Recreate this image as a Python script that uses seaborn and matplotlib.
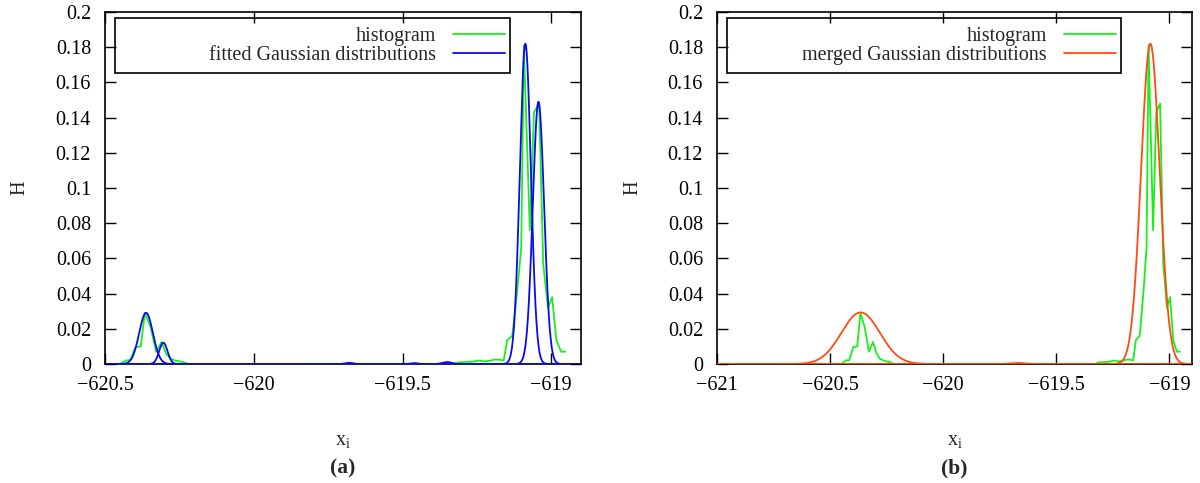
import numpy as np
import pandas as pd
import matplotlib
matplotlib.use("Agg")
import matplotlib.pyplot as plt
from matplotlib.patches import Rectangle
import seaborn as sns

# ---------------- data ----------------
hist_x = [-620.45, -620.43, -620.415, -620.398, -620.38, -620.366, -620.347,
          -620.328, -620.31, -620.295, -620.28, -620.265, -620.25, -620.235,
          -620.218,
          -619.33, -619.31, -619.29, -619.275, -619.258, -619.24, -619.225,
          -619.208, -619.19, -619.175, -619.16, -619.148, -619.131, -619.114,
          -619.101, -619.092, -619.072, -619.058, -619.041, -619.027, -619.011,
          -618.997, -618.983, -618.967, -618.953]
hist_h = [0.0, 0.002, 0.0022, 0.0095, 0.010, 0.029, 0.021,
          0.007, 0.0125, 0.006, 0.003, 0.002, 0.0015, 0.001,
          0.0,
          0.0, 0.001, 0.001, 0.0012, 0.0015, 0.002, 0.0015,
          0.0018, 0.0025, 0.0025, 0.002, 0.0136, 0.016, 0.042,
          0.066, 0.181, 0.076, 0.143, 0.148, 0.057, 0.032,
          0.038, 0.0136, 0.007, 0.007]

# fitted Gaussian components (panel a): centre, peak height, width
fit_mu    = [-620.362, -620.304, -619.087, -619.043, -619.68, -619.46, -619.35]
fit_amp   = [0.0291, 0.0121, 0.182, 0.149, 0.0007, 0.0005, 0.0011]
fit_sigma = [0.023, 0.014, 0.0185, 0.019, 0.012, 0.012, 0.015]

# merged Gaussian components (panel b)
mrg_mu    = [-620.365, -619.084, -619.67]
mrg_amp   = [0.0293, 0.182, 0.0006]
mrg_sigma = [0.085, 0.041, 0.03]

xticks_a = [-620.5, -620, -619.5, -619]
xticks_b = [-621, -620.5, -620, -619.5, -619]
yticks = [0, 0.02, 0.04, 0.06, 0.08, 0.1, 0.12, 0.14, 0.16, 0.18, 0.2]

GREEN = "#19f019"
BLUE = "#0a0aee"
ORANGE = "#ff4a10"

# ---------------- style ----------------
sns.set_theme(style="ticks")
plt.rcParams["font.family"] = ["Liberation Serif", "DejaVu Serif"]
plt.rcParams["mathtext.fontset"] = "custom"
plt.rcParams["mathtext.rm"] = "Liberation Serif"
plt.rcParams["mathtext.it"] = "Liberation Serif:italic"
FS = 14.5

fig = plt.figure(figsize=(12, 4.83), dpi=100)
W, Hh = 1200, 483
axA = fig.add_axes([105 / W, 1 - 364 / Hh, (581 - 105) / W, (364 - 12) / Hh])
axB = fig.add_axes([717 / W, 1 - 364 / Hh, (1192 - 717) / W, (364 - 12) / Hh])


def gauss_frame(mu, amp, sig, lo, hi):
    xs = np.linspace(lo, hi, 3000)
    return pd.DataFrame({"x": xs, "y": amp * np.exp(-0.5 * ((xs - mu) / sig) ** 2)})


hist_df = pd.DataFrame({"x": hist_x, "H": hist_h})


def style_axes(ax, xlim, xticks):
    ax.set_xlim(*xlim)
    ax.set_ylim(0, 0.2)
    ax.set_xticks(xticks)
    ax.set_xticklabels([("%g" % t).replace("-", "\u2212") for t in xticks])
    ax.set_yticks(yticks)
    ax.set_yticklabels(["%g" % t for t in yticks])
    ax.tick_params(direction="in", length=8, width=1, top=True, right=True,
                   labelsize=FS, colors="black")
    ax.tick_params(axis="x", pad=9)
    ax.tick_params(axis="y", pad=10)
    for s in ax.spines.values():
        s.set_visible(True)
        s.set_color("black")
        s.set_linewidth(1.2)
    ax.set_xlabel(r"x$_{\rm i}$", fontsize=FS)
    ax.set_ylabel("H", fontsize=FS)
    ax.xaxis.set_label_coords(0.5, -0.19)
    ax.yaxis.set_label_coords(-0.158, 0.5)


# Panel a
sns.lineplot(data=hist_df, x="x", y="H", ax=axA, color=GREEN, lw=1.3,
             sort=False, estimator=None, label="histogram", zorder=3)
for i, (m, a, s) in enumerate(zip(fit_mu, fit_amp, fit_sigma)):
    d = gauss_frame(m, a, s, -620.5, -618.9)
    sns.lineplot(data=d, x="x", y="y", ax=axA, color=BLUE, lw=1.3, sort=False,
                 estimator=None, zorder=3,
                 label="fitted Gaussian distributions" if i == 0 else None)
style_axes(axA, (-620.5, -618.9), xticks_a)

# Panel b
sns.lineplot(data=hist_df, x="x", y="H", ax=axB, color=GREEN, lw=1.3,
             sort=False, estimator=None, label="histogram", zorder=3)
for i, (m, a, s) in enumerate(zip(mrg_mu, mrg_amp, mrg_sigma)):
    d = gauss_frame(m, a, s, -621, -618.9)
    sns.lineplot(data=d, x="x", y="y", ax=axB, color=ORANGE, lw=1.3, sort=False,
                 estimator=None, zorder=3,
                 label="merged Gaussian distributions" if i == 0 else None)
style_axes(axB, (-621, -618.9), xticks_b)

# gnuplot-style key: wide box, right-aligned text, sample line on the right
BOX_L, BOX_R, BOX_T, BOX_B = 0.022, 0.850, 0.983, 0.826
for ax in (axA, axB):
    leg = ax.legend(loc="upper right", bbox_to_anchor=(0.841, 0.958),
                    borderaxespad=0, borderpad=0, markerfirst=False,
                    frameon=False, fontsize=FS, handlelength=2.6,
                    handletextpad=0.85, labelspacing=0.0)
    for t in leg.get_texts():
        t.set_ha("right")
    leg._legend_box.align = "right"
    ax.add_patch(Rectangle((BOX_L, BOX_B), BOX_R - BOX_L, BOX_T - BOX_B,
                           transform=ax.transAxes, fill=False,
                           edgecolor="black", lw=1.2, zorder=5))

fig.text((105 + 581) / 2 / W, 1 - 468 / Hh, "(a)", ha="center", va="center",
         fontsize=FS + 1, fontweight="bold")
fig.text((717 + 1192) / 2 / W, 1 - 468 / Hh, "(b)", ha="center", va="center",
         fontsize=FS + 1, fontweight="bold")

fig.savefig("out.png", dpi=100)
